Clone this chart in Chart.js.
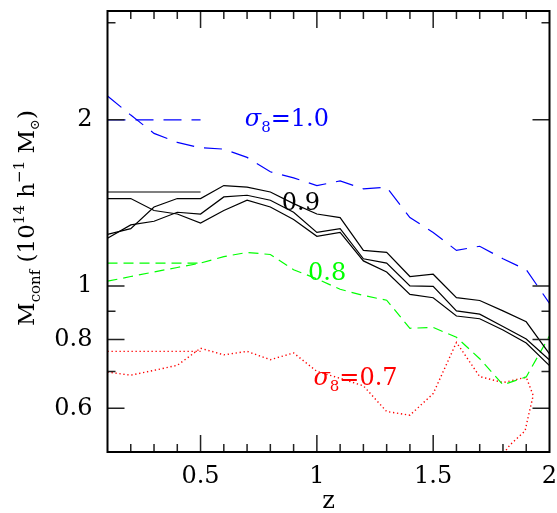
<!DOCTYPE html>
<html>
<head>
<meta charset="utf-8">
<script src="https://cdn.jsdelivr.net/npm/chart.js"></script>
<style>
  html, body { margin: 0; padding: 0; background: #fff; }
</style>
</head>
<body>
<canvas id="chart" width="557" height="513"></canvas>
<script>
// redshift grid shared by all curves
var zGrid = [0.1, 0.2, 0.3, 0.4, 0.5, 0.6, 0.7, 0.8, 0.9, 1.0, 1.1, 1.2, 1.3, 1.4, 1.5, 1.6, 1.7, 1.8, 1.9, 2.0];

// sigma8 = 1.0 (blue, long dash)
var blueM = [2.21, 2.04, 1.89, 1.82, 1.78, 1.77, 1.71, 1.61, 1.57, 1.52, 1.55, 1.50, 1.51, 1.33, 1.25, 1.16, 1.18, 1.12, 1.07, 0.93];
// sigma8 = 0.9 (black, three curves)
var blackTopM = [1.24, 1.27, 1.39, 1.44, 1.44, 1.52, 1.51, 1.48, 1.41, 1.35, 1.33, 1.16, 1.15, 1.04, 1.05, 0.952, 0.941, 0.901, 0.861, 0.753];
var blackMidM = [1.22, 1.29, 1.31, 1.36, 1.35, 1.45, 1.46, 1.43, 1.36, 1.25, 1.27, 1.12, 1.10, 1.00, 0.998, 0.901, 0.889, 0.844, 0.801, 0.734];
var blackLowM = [1.44, 1.44, 1.37, 1.35, 1.30, 1.37, 1.43, 1.39, 1.32, 1.23, 1.25, 1.11, 1.06, 0.965, 0.952, 0.882, 0.872, 0.832, 0.788, 0.717];
// sigma8 = 0.8 (green, short dash)
var greenM = [1.02, 1.04, 1.06, 1.08, 1.10, 1.13, 1.15, 1.14, 1.07, 1.03, 0.986, 0.961, 0.942, 0.838, 0.841, 0.807, 0.738, 0.662, 0.684, 0.812];
// sigma8 = 0.7 (red, dotted) - up to z=1.9, then the curve folds back
var redM = [0.698, 0.689, 0.703, 0.718, 0.771, 0.750, 0.761, 0.735, 0.756, 0.700, 0.680, 0.659, 0.592, 0.583, 0.638, 0.790, 0.685, 0.668, 0.683];
var redTailZ = [1.93, 1.91, 1.895, 1.83, 1.80];
var redTailM = [0.633, 0.583, 0.546, 0.515, 0.495];

// short key lines drawn at the left
var keyZ = [0.1, 0.5];
var keyBlue = 2.0, keyBlack = 1.48, keyGreen = 1.10, keyRed = 0.761;

// ticks
var xLabelTicks = [0.5, 1, 1.5, 2];
var xMinorTicks = [0.2, 0.3, 0.4, 0.5, 0.6, 0.7, 0.8, 0.9, 1.0, 1.1, 1.2, 1.3, 1.4, 1.5, 1.6, 1.7, 1.8, 1.9];
var xMajorTicks = [0.5, 1.0, 1.5];
var yLabelTicks = [0.6, 0.8, 1, 2];
var yAllTicks = [0.6, 0.7, 0.8, 0.9, 1, 2, 3];

function pts(xs, ys) {
  return ys.map(function (y, i) { return { x: xs[i], y: y }; });
}
function keyPts(v) { return pts(keyZ, [v, v]); }

var SERIF = "'DejaVu Serif', 'Liberation Serif', serif";

function line(data, color, dash, width) {
  return {
    data: data, showLine: true, borderColor: color, backgroundColor: color,
    borderWidth: width || 1.2, borderDash: dash || [], pointRadius: 0, tension: 0
  };
}

var datasets = [
  line(keyPts(keyBlue), '#0000ff', [18, 10]),
  line(pts(zGrid, blueM), '#0000ff', [18, 10]),
  line(keyPts(keyBlack), '#000000'),
  line(pts(zGrid, blackTopM), '#000000'),
  line(pts(zGrid, blackMidM), '#000000'),
  line(pts(zGrid, blackLowM), '#000000'),
  line(keyPts(keyGreen), '#00ff00', [10, 6]),
  line(pts(zGrid, greenM), '#00ff00', [10, 6]),
  line(keyPts(keyRed), '#ff0000', [1.3, 2.7], 1.4),
  line(pts(zGrid.slice(0, redM.length), redM).concat(pts(redTailZ, redTailM)), '#ff0000', [1.3, 2.7], 1.4)
];

// text labels placed in data coordinates (z, M)
var labels = [
  { sigma: true, text: '1.0', z: 0.69, m: 1.952, color: '#0000ff' },
  { sigma: false, text: '0.9', z: 0.849, m: 1.375, color: '#000000' },
  { sigma: false, text: '0.8', z: 0.962, m: 1.027, color: '#00ff00' },
  { sigma: true, text: '0.7', z: 0.985, m: 0.661, color: '#ff0000' }
];

function drawPieces(ctx, pieces) {
  var x = 0;
  pieces.forEach(function (p) {
    ctx.font = (p.style || '') + ' ' + p.size + 'px ' + SERIF;
    ctx.fillText(p.t, x, p.dy);
    x += ctx.measureText(p.t).width;
  });
  return x;
}
function piecesWidth(ctx, pieces) {
  var w = 0;
  pieces.forEach(function (p) {
    ctx.font = (p.style || '') + ' ' + p.size + 'px ' + SERIF;
    w += ctx.measureText(p.t).width;
  });
  return w;
}

var decor = {
  id: 'decor',
  afterDraw: function (chart) {
    var ctx = chart.ctx, a = chart.chartArea;
    var xs = chart.scales.x, ys = chart.scales.y;
    ctx.save();
    // ticks, pointing inwards on all four sides
    ctx.strokeStyle = '#222';
    ctx.lineWidth = 1.5;
    ctx.beginPath();
    xMinorTicks.forEach(function (v) {
      var px = xs.getPixelForValue(v);
      var len = xMajorTicks.some(function (m) { return Math.abs(m - v) < 1e-6; }) ? 17 : 8;
      ctx.moveTo(px, a.bottom); ctx.lineTo(px, a.bottom - len);
      ctx.moveTo(px, a.top); ctx.lineTo(px, a.top + len);
    });
    yAllTicks.forEach(function (v) {
      var py = ys.getPixelForValue(v);
      var len = yLabelTicks.indexOf(v) >= 0 ? 17 : 8;
      ctx.moveTo(a.left, py); ctx.lineTo(a.left + len, py);
      ctx.moveTo(a.right, py); ctx.lineTo(a.right - len, py);
    });
    ctx.stroke();
    // frame
    ctx.strokeStyle = '#000';
    ctx.lineWidth = 2;
    ctx.strokeRect(a.left, a.top, a.right - a.left, a.bottom - a.top);

    // curve labels
    ctx.textBaseline = 'alphabetic';
    ctx.textAlign = 'left';
    labels.forEach(function (l) {
      ctx.fillStyle = l.color;
      ctx.save();
      ctx.translate(xs.getPixelForValue(l.z), ys.getPixelForValue(l.m));
      var pieces = l.sigma
        ? [{ t: 'σ', size: 24, dy: 0, style: 'italic' }, { t: '8', size: 15, dy: 6 }, { t: '=' + l.text, size: 24, dy: 0 }]
        : [{ t: l.text, size: 24, dy: 0 }];
      drawPieces(ctx, pieces);
      ctx.restore();
    });

    // x axis title
    ctx.fillStyle = '#000';
    ctx.font = '24px ' + SERIF;
    ctx.textAlign = 'center';
    ctx.fillText('z', (a.left + a.right) / 2, 508);

    // y axis title, rotated
    ctx.textAlign = 'left';
    var yt = [
      { t: 'M', size: 23, dy: 0 }, { t: 'conf', size: 15, dy: 6 },
      { t: ' (10', size: 23, dy: 0 }, { t: '14', size: 15, dy: -10 },
      { t: ' h', size: 23, dy: 0 }, { t: '\u22121', size: 15, dy: -10 },
      { t: ' M', size: 23, dy: 0 }, { t: '\u2299', size: 13, dy: 5 },
      { t: ')', size: 23, dy: 0 }
    ];
    var w = piecesWidth(ctx, yt);
    ctx.translate(34, 218 + w / 2);
    ctx.rotate(-Math.PI / 2);
    drawPieces(ctx, yt);
    ctx.restore();
  }
};

var ctx = document.getElementById('chart').getContext('2d');
var chart = new Chart(ctx, {
  type: 'scatter',
  data: { datasets: datasets },
  options: {
    responsive: false,
    animation: false,
    layout: { padding: { left: 0, right: 7.5, top: 11, bottom: 0 } },
    plugins: { legend: { display: false }, tooltip: { enabled: false } },
    scales: {
      x: {
        type: 'linear', min: 0.1, max: 2.0,
        afterBuildTicks: function (s) { s.ticks = xLabelTicks.map(function (v) { return { value: v }; }); },
        afterFit: function (s) {
          s.height = 61;
          s.paddingLeft = 0; s.paddingRight = 0; s.paddingTop = 0; s.paddingBottom = 0;
        },
        grid: { display: false, drawTicks: false },
        border: { display: false },
        ticks: {
          padding: 10, color: '#000', maxRotation: 0, autoSkip: false,
          font: { family: SERIF, size: 24 },
          callback: function (v) { return String(v); }
        }
      },
      y: {
        type: 'logarithmic', min: 0.5, max: 3.15,
        afterBuildTicks: function (s) { s.ticks = yLabelTicks.map(function (v) { return { value: v }; }); },
        afterFit: function (s) {
          s.width = 107.5;
          s.paddingLeft = 0; s.paddingRight = 0; s.paddingTop = 0; s.paddingBottom = 0;
        },
        grid: { display: false, drawTicks: false },
        border: { display: false },
        ticks: {
          padding: 15, color: '#000', autoSkip: false,
          font: { family: SERIF, size: 24 },
          callback: function (v) { return String(v); }
        }
      }
    }
  },
  plugins: [decor]
});
</script>
</body>
</html>
